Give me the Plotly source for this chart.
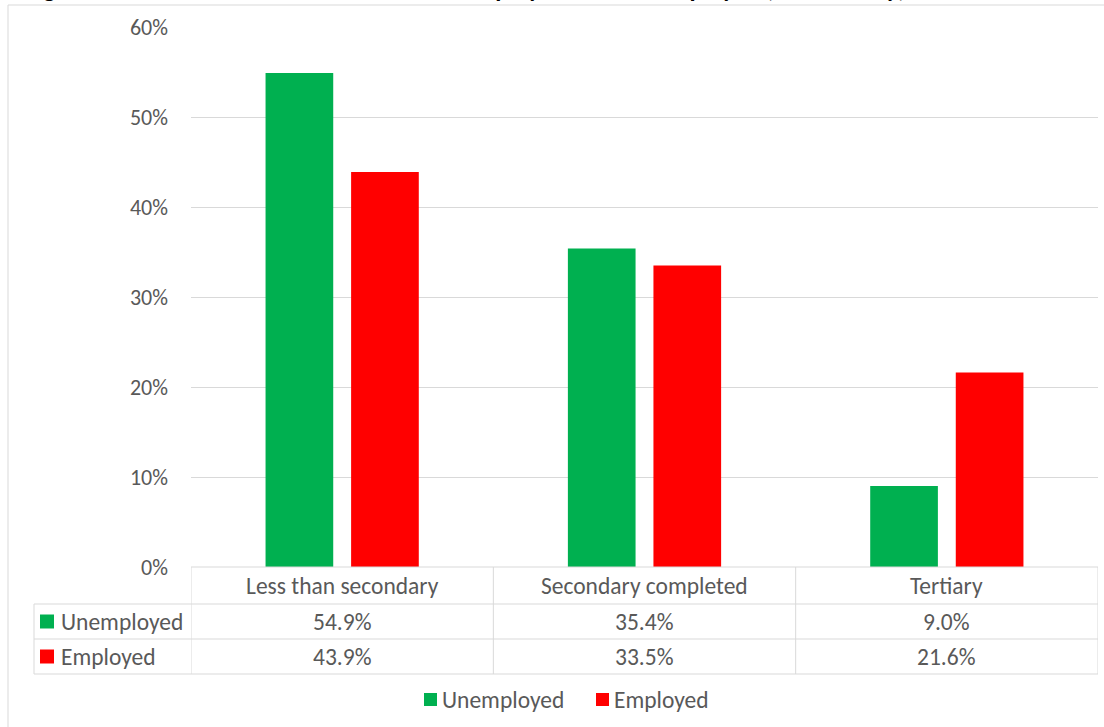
import plotly.graph_objects as go

# Educational attainment shares (%) by labour-force status
categories = ["Less than secondary", "Secondary completed", "Tertiary"]
series_names = ["Unemployed", "Employed"]
unemployed = [54.9, 35.4, 9.0]
employed = [43.9, 33.5, 21.6]
y_ticks = [0, 10, 20, 30, 40, 50, 60]

colors = ["#00B050", "#FF0000"]
values = [unemployed, employed]

W, H = 1104, 727
L, R, T, B = 191, 1098, 27, 567  # plot area in pixels
FONT = "Calibri, Carlito, Lato, sans-serif"
GREY = "#595959"
LINE = "#d9d9d9"
TXT = 23.5


def px(x):
    return (x - L) / (R - L)


def py(y):
    return (B - y) / (B - T)


fig = go.Figure()
for name, vals, col in zip(series_names, values, colors):
    fig.add_trace(go.Bar(x=categories, y=vals, name=name, marker_color=col,
                         marker_line_width=0, showlegend=False))

shapes = []
annotations = []

# outer chart border
shapes.append(dict(type="rect", xref="paper", yref="paper",
                   x0=px(8), x1=px(1120), y0=py(5), y1=py(760),
                   line=dict(color=LINE, width=1), layer="below"))

# data table grid
row_y = [567, 604, 639, 674]
shapes.append(dict(type="line", xref="paper", yref="paper",
                   x0=0, x1=1, y0=py(567), y1=py(567), line=dict(color=LINE, width=1)))
for yy in row_y[1:]:
    shapes.append(dict(type="line", xref="paper", yref="paper",
                       x0=px(34), x1=1, y0=py(yy), y1=py(yy), line=dict(color=LINE, width=1)))
shapes.append(dict(type="line", xref="paper", yref="paper",
                   x0=px(34), x1=px(34), y0=py(604), y1=py(674), line=dict(color=LINE, width=1)))
for k in range(len(categories) + 1):
    shapes.append(dict(type="line", xref="x", yref="paper",
                       x0=k - 0.5, x1=k - 0.5, y0=py(567), y1=py(674),
                       line=dict(color=LINE, width=1)))

# category header row
for i, c in enumerate(categories):
    annotations.append(dict(x=i, y=py(585.5), xref="x", yref="paper", text=c,
                            showarrow=False, xanchor="center", yanchor="middle",
                            font=dict(family=FONT, size=TXT, color=GREY)))

# series rows: key square, label, values
row_centres = [621.5, 656.5]
for name, vals, col, yc in zip(series_names, values, colors, row_centres):
    shapes.append(dict(type="rect", xref="paper", yref="paper",
                       x0=px(40), x1=px(54), y0=py(yc - 7), y1=py(yc + 7),
                       fillcolor=col, line=dict(width=0)))
    annotations.append(dict(x=px(59), y=py(yc), xref="paper", yref="paper", text=name,
                            showarrow=False, xanchor="left", yanchor="middle",
                            font=dict(family=FONT, size=TXT, color=GREY)))
    for i, v in enumerate(vals):
        annotations.append(dict(x=i, y=py(yc), xref="x", yref="paper", text=f"{v:.1f}%",
                                showarrow=False, xanchor="center", yanchor="middle",
                                font=dict(family=FONT, size=TXT, color=GREY)))

# legend below the table
legend_x = [424, 596]
for name, col, lx in zip(series_names, colors, legend_x):
    shapes.append(dict(type="rect", xref="paper", yref="paper",
                       x0=px(lx), x1=px(lx + 13), y0=py(693), y1=py(706),
                       fillcolor=col, line=dict(width=0)))
    annotations.append(dict(x=px(lx + 16), y=py(699.5), xref="paper", yref="paper", text=name,
                            showarrow=False, xanchor="left", yanchor="middle",
                            font=dict(family=FONT, size=TXT, color=GREY)))

# chart title (runs off the top edge)
annotations.append(dict(x=px(24), y=py(6), xref="paper", yref="paper",
                        text="<b>Figure 3: Educational attainment of the unemployed and the employed (2019 survey)</b>",
                        showarrow=False, xanchor="left", yanchor="bottom",
                        font=dict(family=FONT, size=25, color="#000000")))

fig.update_layout(
    width=W, height=H, autosize=False,
    margin=dict(l=L, r=W - R, t=T, b=H - B, pad=0),
    paper_bgcolor="white", plot_bgcolor="white",
    barmode="group", bargap=0.434, bargroupgap=0.209,
    shapes=shapes, annotations=annotations,
    font=dict(family=FONT, color=GREY),
)
fig.update_xaxes(showticklabels=False, showgrid=False, zeroline=False, showline=False,
                 range=[-0.5, len(categories) - 0.5])
fig.update_yaxes(range=[0, 60], tickvals=y_ticks, ticktext=[f"{t}%" for t in y_ticks],
                 showgrid=True, gridcolor=LINE, gridwidth=1, zeroline=False, showline=False,
                 tickfont=dict(family=FONT, size=22, color=GREY), ticklabelstandoff=22)

fig.write_html("out.html")
